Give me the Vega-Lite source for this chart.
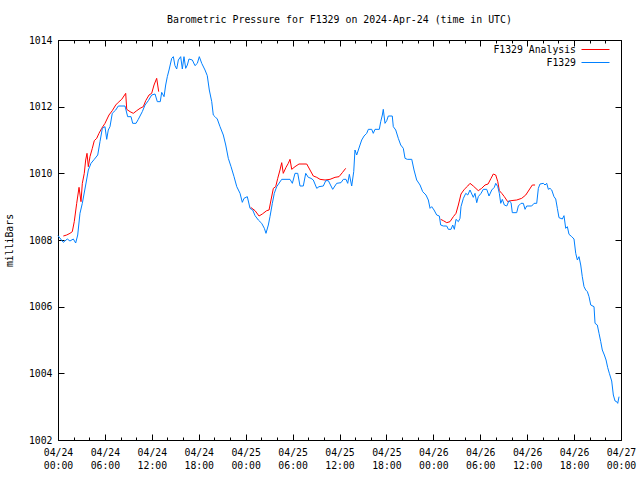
{
"$schema": "https://vega.github.io/schema/vega-lite/v6.json",
"width": 563, "height": 400,
"autosize": "none",
"padding": {"left": 58, "top": 40, "right": 19, "bottom": 40},
"background": "white",
"title": {"text": "Barometric Pressure for F1329 on 2024-Apr-24 (time in UTC)", "font": "DejaVu Sans Mono", "fontSize": 9.9, "fontWeight": "normal", "anchor": "middle", "offset": 10, "color": "black"},
"config": {
 "view": {"stroke": "black", "strokeWidth": 1},
 "axis": {"grid": false, "domain": false, "labelFont": "DejaVu Sans Mono", "labelFontSize": 9.8, "labelColor": "black", "tickColor": "black", "tickWidth": 1, "titleFont": "DejaVu Sans Mono", "titleFontSize": 9.8, "titleFontWeight": "normal", "titleColor": "black"}
},
"data": {"values": [
{"series":"F1329 Analysis","seg":"a1","hour":0.68,"mb":1008.12},
{"series":"F1329 Analysis","seg":"a1","hour":1.11,"mb":1008.15},
{"series":"F1329 Analysis","seg":"a1","hour":1.53,"mb":1008.2},
{"series":"F1329 Analysis","seg":"a1","hour":1.83,"mb":1008.25},
{"series":"F1329 Analysis","seg":"a1","hour":2.08,"mb":1008.55},
{"series":"F1329 Analysis","seg":"a1","hour":2.39,"mb":1009.1},
{"series":"F1329 Analysis","seg":"a1","hour":2.69,"mb":1009.58},
{"series":"F1329 Analysis","seg":"a1","hour":2.94,"mb":1009.15},
{"series":"F1329 Analysis","seg":"a1","hour":3.11,"mb":1009.7},
{"series":"F1329 Analysis","seg":"a1","hour":3.36,"mb":1010.0},
{"series":"F1329 Analysis","seg":"a1","hour":3.54,"mb":1010.4},
{"series":"F1329 Analysis","seg":"a1","hour":3.71,"mb":1010.6},
{"series":"F1329 Analysis","seg":"a1","hour":3.88,"mb":1010.2},
{"series":"F1329 Analysis","seg":"a1","hour":4.09,"mb":1010.5},
{"series":"F1329 Analysis","seg":"a1","hour":4.39,"mb":1010.75},
{"series":"F1329 Analysis","seg":"a1","hour":4.64,"mb":1010.98},
{"series":"F1329 Analysis","seg":"a1","hour":4.95,"mb":1011.05},
{"series":"F1329 Analysis","seg":"a1","hour":5.24,"mb":1011.2},
{"series":"F1329 Analysis","seg":"a1","hour":5.59,"mb":1011.35},
{"series":"F1329 Analysis","seg":"a1","hour":6.01,"mb":1011.5},
{"series":"F1329 Analysis","seg":"a1","hour":6.52,"mb":1011.75},
{"series":"F1329 Analysis","seg":"a1","hour":6.94,"mb":1011.88},
{"series":"F1329 Analysis","seg":"a1","hour":7.38,"mb":1012.05},
{"series":"F1329 Analysis","seg":"a1","hour":7.71,"mb":1012.13},
{"series":"F1329 Analysis","seg":"a1","hour":8.15,"mb":1012.22},
{"series":"F1329 Analysis","seg":"a1","hour":8.66,"mb":1012.4},
{"series":"F1329 Analysis","seg":"a1","hour":8.79,"mb":1011.92},
{"series":"F1329 Analysis","seg":"a1","hour":9.21,"mb":1011.85},
{"series":"F1329 Analysis","seg":"a1","hour":9.63,"mb":1011.8},
{"series":"F1329 Analysis","seg":"a1","hour":10.07,"mb":1011.88},
{"series":"F1329 Analysis","seg":"a1","hour":10.49,"mb":1011.95},
{"series":"F1329 Analysis","seg":"a1","hour":10.91,"mb":1012.0},
{"series":"F1329 Analysis","seg":"a1","hour":11.22,"mb":1012.18},
{"series":"F1329 Analysis","seg":"a1","hour":11.64,"mb":1012.35},
{"series":"F1329 Analysis","seg":"a1","hour":11.98,"mb":1012.4},
{"series":"F1329 Analysis","seg":"a1","hour":12.28,"mb":1012.65},
{"series":"F1329 Analysis","seg":"a1","hour":12.62,"mb":1012.85},
{"series":"F1329 Analysis","seg":"a1","hour":12.88,"mb":1012.45},
{"series":"F1329 Analysis","seg":"a2","hour":24.64,"mb":1008.98},
{"series":"F1329 Analysis","seg":"a2","hour":25.2,"mb":1008.88},
{"series":"F1329 Analysis","seg":"a2","hour":25.71,"mb":1008.72},
{"series":"F1329 Analysis","seg":"a2","hour":26.13,"mb":1008.78},
{"series":"F1329 Analysis","seg":"a2","hour":26.69,"mb":1008.88},
{"series":"F1329 Analysis","seg":"a2","hour":26.99,"mb":1008.9},
{"series":"F1329 Analysis","seg":"a2","hour":27.24,"mb":1009.2},
{"series":"F1329 Analysis","seg":"a2","hour":27.54,"mb":1009.55},
{"series":"F1329 Analysis","seg":"a2","hour":27.84,"mb":1009.6},
{"series":"F1329 Analysis","seg":"a2","hour":28.1,"mb":1009.85},
{"series":"F1329 Analysis","seg":"a2","hour":28.39,"mb":1010.1},
{"series":"F1329 Analysis","seg":"a2","hour":28.61,"mb":1010.32},
{"series":"F1329 Analysis","seg":"a2","hour":28.81,"mb":1010.0},
{"series":"F1329 Analysis","seg":"a2","hour":29.16,"mb":1010.18},
{"series":"F1329 Analysis","seg":"a2","hour":29.45,"mb":1010.3},
{"series":"F1329 Analysis","seg":"a2","hour":29.67,"mb":1010.42},
{"series":"F1329 Analysis","seg":"a2","hour":29.89,"mb":1010.12},
{"series":"F1329 Analysis","seg":"a2","hour":30.31,"mb":1010.2},
{"series":"F1329 Analysis","seg":"a2","hour":30.82,"mb":1010.28},
{"series":"F1329 Analysis","seg":"a2","hour":31.81,"mb":1010.28},
{"series":"F1329 Analysis","seg":"a2","hour":32.23,"mb":1010.1},
{"series":"F1329 Analysis","seg":"a2","hour":32.65,"mb":1009.92},
{"series":"F1329 Analysis","seg":"a2","hour":33.09,"mb":1009.88},
{"series":"F1329 Analysis","seg":"a2","hour":33.51,"mb":1009.82},
{"series":"F1329 Analysis","seg":"a2","hour":34.15,"mb":1009.8},
{"series":"F1329 Analysis","seg":"a2","hour":34.79,"mb":1009.82},
{"series":"F1329 Analysis","seg":"a2","hour":35.43,"mb":1009.88},
{"series":"F1329 Analysis","seg":"a2","hour":35.94,"mb":1009.9},
{"series":"F1329 Analysis","seg":"a2","hour":36.36,"mb":1010.02},
{"series":"F1329 Analysis","seg":"a2","hour":36.79,"mb":1010.15},
{"series":"F1329 Analysis","seg":"a3","hour":48.94,"mb":1008.62},
{"series":"F1329 Analysis","seg":"a3","hour":49.28,"mb":1008.58},
{"series":"F1329 Analysis","seg":"a3","hour":49.71,"mb":1008.52},
{"series":"F1329 Analysis","seg":"a3","hour":50.13,"mb":1008.55},
{"series":"F1329 Analysis","seg":"a3","hour":50.56,"mb":1008.7},
{"series":"F1329 Analysis","seg":"a3","hour":50.9,"mb":1008.8},
{"series":"F1329 Analysis","seg":"a3","hour":51.2,"mb":1009.05},
{"series":"F1329 Analysis","seg":"a3","hour":51.54,"mb":1009.38},
{"series":"F1329 Analysis","seg":"a3","hour":51.96,"mb":1009.52},
{"series":"F1329 Analysis","seg":"a3","hour":52.4,"mb":1009.62},
{"series":"F1329 Analysis","seg":"a3","hour":52.69,"mb":1009.7},
{"series":"F1329 Analysis","seg":"a3","hour":53.11,"mb":1009.62},
{"series":"F1329 Analysis","seg":"a3","hour":53.75,"mb":1009.48},
{"series":"F1329 Analysis","seg":"a3","hour":54.18,"mb":1009.55},
{"series":"F1329 Analysis","seg":"a3","hour":54.61,"mb":1009.65},
{"series":"F1329 Analysis","seg":"a3","hour":55.0,"mb":1009.68},
{"series":"F1329 Analysis","seg":"a3","hour":55.38,"mb":1009.85},
{"series":"F1329 Analysis","seg":"a3","hour":55.67,"mb":1009.98},
{"series":"F1329 Analysis","seg":"a3","hour":55.98,"mb":1009.95},
{"series":"F1329 Analysis","seg":"a3","hour":56.24,"mb":1009.75},
{"series":"F1329 Analysis","seg":"a3","hour":56.44,"mb":1009.48},
{"series":"F1329 Analysis","seg":"a3","hour":56.75,"mb":1009.4},
{"series":"F1329 Analysis","seg":"a3","hour":57.08,"mb":1009.3},
{"series":"F1329 Analysis","seg":"a3","hour":57.51,"mb":1009.15},
{"series":"F1329 Analysis","seg":"a3","hour":57.94,"mb":1009.18},
{"series":"F1329 Analysis","seg":"a3","hour":58.66,"mb":1009.2},
{"series":"F1329 Analysis","seg":"a3","hour":59.3,"mb":1009.25},
{"series":"F1329 Analysis","seg":"a3","hour":59.82,"mb":1009.35},
{"series":"F1329 Analysis","seg":"a3","hour":60.24,"mb":1009.5},
{"series":"F1329 Analysis","seg":"a3","hour":60.66,"mb":1009.65},
{"series":"F1329 Analysis","seg":"a3","hour":61.01,"mb":1009.65},
{"series":"F1329","seg":"b","hour":0.0,"mb":1008.13},
{"series":"F1329","seg":"b","hour":0.68,"mb":1007.93},
{"series":"F1329","seg":"b","hour":1.19,"mb":1008.03},
{"series":"F1329","seg":"b","hour":1.53,"mb":1007.97},
{"series":"F1329","seg":"b","hour":1.96,"mb":1008.03},
{"series":"F1329","seg":"b","hour":2.26,"mb":1007.91},
{"series":"F1329","seg":"b","hour":2.52,"mb":1008.15},
{"series":"F1329","seg":"b","hour":2.81,"mb":1008.8},
{"series":"F1329","seg":"b","hour":3.11,"mb":1009.1},
{"series":"F1329","seg":"b","hour":3.54,"mb":1009.65},
{"series":"F1329","seg":"b","hour":3.88,"mb":1010.1},
{"series":"F1329","seg":"b","hour":4.22,"mb":1010.3},
{"series":"F1329","seg":"b","hour":4.64,"mb":1010.42},
{"series":"F1329","seg":"b","hour":5.08,"mb":1010.55},
{"series":"F1329","seg":"b","hour":5.37,"mb":1010.95},
{"series":"F1329","seg":"b","hour":5.67,"mb":1011.35},
{"series":"F1329","seg":"b","hour":6.01,"mb":1011.4},
{"series":"F1329","seg":"b","hour":6.23,"mb":1011.02},
{"series":"F1329","seg":"b","hour":6.43,"mb":1011.3},
{"series":"F1329","seg":"b","hour":6.65,"mb":1011.4},
{"series":"F1329","seg":"b","hour":6.94,"mb":1011.8},
{"series":"F1329","seg":"b","hour":7.38,"mb":1011.9},
{"series":"F1329","seg":"b","hour":7.71,"mb":1012.02},
{"series":"F1329","seg":"b","hour":8.57,"mb":1012.02},
{"series":"F1329","seg":"b","hour":8.91,"mb":1011.7},
{"series":"F1329","seg":"b","hour":9.34,"mb":1011.7},
{"series":"F1329","seg":"b","hour":9.55,"mb":1011.5},
{"series":"F1329","seg":"b","hour":9.98,"mb":1011.5},
{"series":"F1329","seg":"b","hour":10.27,"mb":1011.62},
{"series":"F1329","seg":"b","hour":10.78,"mb":1011.85},
{"series":"F1329","seg":"b","hour":11.13,"mb":1012.05},
{"series":"F1329","seg":"b","hour":11.55,"mb":1012.18},
{"series":"F1329","seg":"b","hour":11.98,"mb":1012.35},
{"series":"F1329","seg":"b","hour":12.41,"mb":1012.38},
{"series":"F1329","seg":"b","hour":12.7,"mb":1012.15},
{"series":"F1329","seg":"b","hour":13.08,"mb":1012.15},
{"series":"F1329","seg":"b","hour":13.26,"mb":1012.43},
{"series":"F1329","seg":"b","hour":13.56,"mb":1012.3},
{"series":"F1329","seg":"b","hour":13.77,"mb":1012.65},
{"series":"F1329","seg":"b","hour":13.98,"mb":1012.9},
{"series":"F1329","seg":"b","hour":14.2,"mb":1013.1},
{"series":"F1329","seg":"b","hour":14.54,"mb":1013.45},
{"series":"F1329","seg":"b","hour":14.75,"mb":1013.5},
{"series":"F1329","seg":"b","hour":14.96,"mb":1013.23},
{"series":"F1329","seg":"b","hour":15.18,"mb":1013.13},
{"series":"F1329","seg":"b","hour":15.39,"mb":1013.4},
{"series":"F1329","seg":"b","hour":15.69,"mb":1013.5},
{"series":"F1329","seg":"b","hour":15.9,"mb":1013.13},
{"series":"F1329","seg":"b","hour":16.11,"mb":1013.5},
{"series":"F1329","seg":"b","hour":16.33,"mb":1013.15},
{"series":"F1329","seg":"b","hour":16.54,"mb":1013.25},
{"series":"F1329","seg":"b","hour":16.75,"mb":1013.43},
{"series":"F1329","seg":"b","hour":17.18,"mb":1013.4},
{"series":"F1329","seg":"b","hour":17.52,"mb":1013.23},
{"series":"F1329","seg":"b","hour":17.82,"mb":1013.3},
{"series":"F1329","seg":"b","hour":18.07,"mb":1013.5},
{"series":"F1329","seg":"b","hour":18.38,"mb":1013.3},
{"series":"F1329","seg":"b","hour":18.8,"mb":1013.1},
{"series":"F1329","seg":"b","hour":19.09,"mb":1012.93},
{"series":"F1329","seg":"b","hour":19.35,"mb":1012.5},
{"series":"F1329","seg":"b","hour":19.66,"mb":1012.15},
{"series":"F1329","seg":"b","hour":19.86,"mb":1011.75},
{"series":"F1329","seg":"b","hour":20.08,"mb":1011.7},
{"series":"F1329","seg":"b","hour":20.37,"mb":1011.63},
{"series":"F1329","seg":"b","hour":20.72,"mb":1011.4},
{"series":"F1329","seg":"b","hour":21.14,"mb":1011.15},
{"series":"F1329","seg":"b","hour":21.45,"mb":1010.85},
{"series":"F1329","seg":"b","hour":21.78,"mb":1010.45},
{"series":"F1329","seg":"b","hour":22.13,"mb":1010.2},
{"series":"F1329","seg":"b","hour":22.51,"mb":1009.9},
{"series":"F1329","seg":"b","hour":22.86,"mb":1009.6},
{"series":"F1329","seg":"b","hour":23.28,"mb":1009.4},
{"series":"F1329","seg":"b","hour":23.57,"mb":1009.13},
{"series":"F1329","seg":"b","hour":23.79,"mb":1009.25},
{"series":"F1329","seg":"b","hour":24.21,"mb":1009.3},
{"series":"F1329","seg":"b","hour":24.56,"mb":1008.95},
{"series":"F1329","seg":"b","hour":24.9,"mb":1008.9},
{"series":"F1329","seg":"b","hour":25.2,"mb":1008.73},
{"series":"F1329","seg":"b","hour":25.62,"mb":1008.6},
{"series":"F1329","seg":"b","hour":26.05,"mb":1008.5},
{"series":"F1329","seg":"b","hour":26.39,"mb":1008.35},
{"series":"F1329","seg":"b","hour":26.6,"mb":1008.2},
{"series":"F1329","seg":"b","hour":26.9,"mb":1008.45},
{"series":"F1329","seg":"b","hour":27.11,"mb":1008.7},
{"series":"F1329","seg":"b","hour":27.41,"mb":1009.1},
{"series":"F1329","seg":"b","hour":27.66,"mb":1009.4},
{"series":"F1329","seg":"b","hour":27.97,"mb":1009.6},
{"series":"F1329","seg":"b","hour":28.61,"mb":1009.82},
{"series":"F1329","seg":"b","hour":29.67,"mb":1009.82},
{"series":"F1329","seg":"b","hour":29.97,"mb":1009.7},
{"series":"F1329","seg":"b","hour":30.31,"mb":1010.0},
{"series":"F1329","seg":"b","hour":30.66,"mb":1010.0},
{"series":"F1329","seg":"b","hour":30.95,"mb":1009.62},
{"series":"F1329","seg":"b","hour":31.37,"mb":1009.62},
{"series":"F1329","seg":"b","hour":31.68,"mb":1010.0},
{"series":"F1329","seg":"b","hour":32.01,"mb":1009.88},
{"series":"F1329","seg":"b","hour":32.36,"mb":1009.85},
{"series":"F1329","seg":"b","hour":32.65,"mb":1009.8},
{"series":"F1329","seg":"b","hour":33.09,"mb":1009.55},
{"series":"F1329","seg":"b","hour":33.38,"mb":1009.6},
{"series":"F1329","seg":"b","hour":33.93,"mb":1009.62},
{"series":"F1329","seg":"b","hour":34.24,"mb":1009.78},
{"series":"F1329","seg":"b","hour":34.57,"mb":1009.78},
{"series":"F1329","seg":"b","hour":35.13,"mb":1009.52},
{"series":"F1329","seg":"b","hour":35.64,"mb":1009.7},
{"series":"F1329","seg":"b","hour":36.19,"mb":1009.72},
{"series":"F1329","seg":"b","hour":36.49,"mb":1009.82},
{"series":"F1329","seg":"b","hour":36.83,"mb":1009.82},
{"series":"F1329","seg":"b","hour":37.05,"mb":1009.7},
{"series":"F1329","seg":"b","hour":37.26,"mb":1009.97},
{"series":"F1329","seg":"b","hour":37.56,"mb":1009.62},
{"series":"F1329","seg":"b","hour":37.82,"mb":1010.05},
{"series":"F1329","seg":"b","hour":37.98,"mb":1010.7},
{"series":"F1329","seg":"b","hour":38.2,"mb":1010.55},
{"series":"F1329","seg":"b","hour":38.41,"mb":1010.7},
{"series":"F1329","seg":"b","hour":38.62,"mb":1010.85},
{"series":"F1329","seg":"b","hour":38.84,"mb":1011.0},
{"series":"F1329","seg":"b","hour":39.14,"mb":1011.12},
{"series":"F1329","seg":"b","hour":39.48,"mb":1011.2},
{"series":"F1329","seg":"b","hour":39.69,"mb":1011.32},
{"series":"F1329","seg":"b","hour":40.12,"mb":1011.32},
{"series":"F1329","seg":"b","hour":40.32,"mb":1011.2},
{"series":"F1329","seg":"b","hour":40.54,"mb":1011.32},
{"series":"F1329","seg":"b","hour":41.09,"mb":1011.32},
{"series":"F1329","seg":"b","hour":41.27,"mb":1011.55},
{"series":"F1329","seg":"b","hour":41.48,"mb":1011.75},
{"series":"F1329","seg":"b","hour":41.6,"mb":1011.92},
{"series":"F1329","seg":"b","hour":41.82,"mb":1011.5},
{"series":"F1329","seg":"b","hour":42.04,"mb":1011.58},
{"series":"F1329","seg":"b","hour":42.24,"mb":1011.72},
{"series":"F1329","seg":"b","hour":42.75,"mb":1011.72},
{"series":"F1329","seg":"b","hour":42.88,"mb":1011.4},
{"series":"F1329","seg":"b","hour":43.19,"mb":1011.3},
{"series":"F1329","seg":"b","hour":43.52,"mb":1011.05},
{"series":"F1329","seg":"b","hour":43.83,"mb":1010.85},
{"series":"F1329","seg":"b","hour":44.16,"mb":1010.75},
{"series":"F1329","seg":"b","hour":44.38,"mb":1010.45},
{"series":"F1329","seg":"b","hour":44.67,"mb":1010.42},
{"series":"F1329","seg":"b","hour":45.24,"mb":1010.42},
{"series":"F1329","seg":"b","hour":45.53,"mb":1010.1},
{"series":"F1329","seg":"b","hour":45.87,"mb":1009.8},
{"series":"F1329","seg":"b","hour":46.3,"mb":1009.65},
{"series":"F1329","seg":"b","hour":46.64,"mb":1009.45},
{"series":"F1329","seg":"b","hour":47.06,"mb":1009.35},
{"series":"F1329","seg":"b","hour":47.36,"mb":1009.2},
{"series":"F1329","seg":"b","hour":47.58,"mb":1008.95},
{"series":"F1329","seg":"b","hour":47.79,"mb":1009.0},
{"series":"F1329","seg":"b","hour":48.09,"mb":1008.9},
{"series":"F1329","seg":"b","hour":48.43,"mb":1008.75},
{"series":"F1329","seg":"b","hour":48.77,"mb":1008.72},
{"series":"F1329","seg":"b","hour":48.94,"mb":1008.45},
{"series":"F1329","seg":"b","hour":49.28,"mb":1008.42},
{"series":"F1329","seg":"b","hour":49.71,"mb":1008.42},
{"series":"F1329","seg":"b","hour":49.92,"mb":1008.32},
{"series":"F1329","seg":"b","hour":50.26,"mb":1008.32},
{"series":"F1329","seg":"b","hour":50.48,"mb":1008.45},
{"series":"F1329","seg":"b","hour":50.69,"mb":1008.32},
{"series":"F1329","seg":"b","hour":50.9,"mb":1008.62},
{"series":"F1329","seg":"b","hour":51.2,"mb":1008.55},
{"series":"F1329","seg":"b","hour":51.41,"mb":1008.65},
{"series":"F1329","seg":"b","hour":51.54,"mb":1009.0},
{"series":"F1329","seg":"b","hour":51.84,"mb":1009.25},
{"series":"F1329","seg":"b","hour":52.15,"mb":1009.4},
{"series":"F1329","seg":"b","hour":52.4,"mb":1009.35},
{"series":"F1329","seg":"b","hour":52.69,"mb":1009.5},
{"series":"F1329","seg":"b","hour":53.11,"mb":1009.28},
{"series":"F1329","seg":"b","hour":53.33,"mb":1009.4},
{"series":"F1329","seg":"b","hour":53.55,"mb":1009.12},
{"series":"F1329","seg":"b","hour":53.75,"mb":1009.3},
{"series":"F1329","seg":"b","hour":54.1,"mb":1009.4},
{"series":"F1329","seg":"b","hour":54.39,"mb":1009.52},
{"series":"F1329","seg":"b","hour":54.83,"mb":1009.52},
{"series":"F1329","seg":"b","hour":55.12,"mb":1009.32},
{"series":"F1329","seg":"b","hour":55.47,"mb":1009.5},
{"series":"F1329","seg":"b","hour":55.8,"mb":1009.58},
{"series":"F1329","seg":"b","hour":55.98,"mb":1009.7},
{"series":"F1329","seg":"b","hour":56.24,"mb":1009.6},
{"series":"F1329","seg":"b","hour":56.44,"mb":1009.4},
{"series":"F1329","seg":"b","hour":56.62,"mb":1009.1},
{"series":"F1329","seg":"b","hour":56.82,"mb":1009.22},
{"series":"F1329","seg":"b","hour":57.08,"mb":1009.05},
{"series":"F1329","seg":"b","hour":57.39,"mb":1009.02},
{"series":"F1329","seg":"b","hour":57.68,"mb":1009.18},
{"series":"F1329","seg":"b","hour":57.94,"mb":1009.12},
{"series":"F1329","seg":"b","hour":58.1,"mb":1008.82},
{"series":"F1329","seg":"b","hour":58.66,"mb":1008.82},
{"series":"F1329","seg":"b","hour":58.87,"mb":1009.02},
{"series":"F1329","seg":"b","hour":59.21,"mb":1009.1},
{"series":"F1329","seg":"b","hour":59.51,"mb":1009.1},
{"series":"F1329","seg":"b","hour":59.73,"mb":1008.92},
{"series":"F1329","seg":"b","hour":59.94,"mb":1009.02},
{"series":"F1329","seg":"b","hour":60.58,"mb":1009.02},
{"series":"F1329","seg":"b","hour":60.88,"mb":1009.1},
{"series":"F1329","seg":"b","hour":61.22,"mb":1009.1},
{"series":"F1329","seg":"b","hour":61.43,"mb":1009.55},
{"series":"F1329","seg":"b","hour":61.64,"mb":1009.68},
{"series":"F1329","seg":"b","hour":62.07,"mb":1009.7},
{"series":"F1329","seg":"b","hour":62.28,"mb":1009.65},
{"series":"F1329","seg":"b","hour":62.5,"mb":1009.7},
{"series":"F1329","seg":"b","hour":62.71,"mb":1009.52},
{"series":"F1329","seg":"b","hour":62.92,"mb":1009.55},
{"series":"F1329","seg":"b","hour":63.14,"mb":1009.5},
{"series":"F1329","seg":"b","hour":63.43,"mb":1009.3},
{"series":"F1329","seg":"b","hour":63.65,"mb":1009.23},
{"series":"F1329","seg":"b","hour":63.86,"mb":1008.95},
{"series":"F1329","seg":"b","hour":64.07,"mb":1008.67},
{"series":"F1329","seg":"b","hour":64.5,"mb":1008.63},
{"series":"F1329","seg":"b","hour":64.71,"mb":1008.73},
{"series":"F1329","seg":"b","hour":64.93,"mb":1008.35},
{"series":"F1329","seg":"b","hour":65.14,"mb":1008.4},
{"series":"F1329","seg":"b","hour":65.35,"mb":1008.17},
{"series":"F1329","seg":"b","hour":65.7,"mb":1008.1},
{"series":"F1329","seg":"b","hour":65.99,"mb":1008.03},
{"series":"F1329","seg":"b","hour":66.21,"mb":1007.6},
{"series":"F1329","seg":"b","hour":66.42,"mb":1007.4},
{"series":"F1329","seg":"b","hour":66.63,"mb":1007.5},
{"series":"F1329","seg":"b","hour":66.85,"mb":1007.25},
{"series":"F1329","seg":"b","hour":67.05,"mb":1006.9},
{"series":"F1329","seg":"b","hour":67.27,"mb":1006.6},
{"series":"F1329","seg":"b","hour":67.49,"mb":1006.5},
{"series":"F1329","seg":"b","hour":67.7,"mb":1006.45},
{"series":"F1329","seg":"b","hour":67.91,"mb":1006.3},
{"series":"F1329","seg":"b","hour":68.13,"mb":1006.05},
{"series":"F1329","seg":"b","hour":68.55,"mb":1006.0},
{"series":"F1329","seg":"b","hour":68.68,"mb":1005.5},
{"series":"F1329","seg":"b","hour":68.97,"mb":1005.45},
{"series":"F1329","seg":"b","hour":69.19,"mb":1005.2},
{"series":"F1329","seg":"b","hour":69.41,"mb":1004.95},
{"series":"F1329","seg":"b","hour":69.61,"mb":1004.7},
{"series":"F1329","seg":"b","hour":69.87,"mb":1004.55},
{"series":"F1329","seg":"b","hour":70.09,"mb":1004.4},
{"series":"F1329","seg":"b","hour":70.3,"mb":1004.17},
{"series":"F1329","seg":"b","hour":70.51,"mb":1004.0},
{"series":"F1329","seg":"b","hour":70.81,"mb":1003.77},
{"series":"F1329","seg":"b","hour":71.02,"mb":1003.35},
{"series":"F1329","seg":"b","hour":71.24,"mb":1003.17},
{"series":"F1329","seg":"b","hour":71.45,"mb":1003.15},
{"series":"F1329","seg":"b","hour":71.58,"mb":1003.1},
{"series":"F1329","seg":"b","hour":71.75,"mb":1003.3}
]},
"resolve": {"axis": {"x": "independent", "y": "independent"}},
"layer": [
 {
  "mark": {"type": "line", "strokeWidth": 1, "interpolate": "linear"},
  "encoding": {
   "x": {"field": "hour", "type": "quantitative", "scale": {"domain": [0, 72], "nice": false, "zero": false},
    "axis": {"orient": "bottom", "title": null, "values": [0,6,12,18,24,30,36,42,48,54,60,66,72], "tickSize": -6, "labelPadding": 13, "labelLineHeight": 13, "labelBaseline": "top", "labelFlush": false, "labelOverlap": false,
     "labelExpr": "['04/' + (24 + floor(datum.value / 24)), (datum.value % 24 < 10 ? '0' : '') + (datum.value % 24) + ':00']"}},
   "y": {"field": "mb", "type": "quantitative", "scale": {"domain": [1002, 1014], "nice": false, "zero": false},
    "axis": {"orient": "left", "title": "milliBars", "values": [1002,1004,1006,1008,1010,1012,1014], "format": "d", "tickSize": -6, "labelPadding": 12, "titlePadding": 14, "labelFlush": false}},
   "color": {"field": "series", "type": "nominal", "scale": {"domain": ["F1329 Analysis", "F1329"], "range": ["#ff0000", "#0080ff"]},
    "legend": {"orient": "none", "legendX": 531, "legendY": 3, "title": null, "symbolType": "M-2.333,0L2.333,0", "symbolSize": 144, "symbolStrokeWidth": 1, "symbolFillColor": "transparent", "labelAlign": "right", "labelOffset": -26, "labelFont": "DejaVu Sans Mono", "labelFontSize": 9.8, "labelColor": "black", "padding": 0, "rowPadding": 1}},
   "detail": {"field": "seg", "type": "nominal"}
  }
 },
 {
  "mark": {"type": "point", "opacity": 0},
  "encoding": {
   "x": {"field": "hour", "type": "quantitative", "axis": {"orient": "bottom", "title": null, "labels": false, "values": [0,2,4,6,8,10,12,14,16,18,20,22,24,26,28,30,32,34,36,38,40,42,44,46,48,50,52,54,56,58,60,62,64,66,68,70,72], "tickSize": -3}},
   "y": {"field": "mb", "type": "quantitative", "axis": {"orient": "right", "title": null, "labels": false, "values": [1002,1004,1006,1008,1010,1012,1014], "tickSize": -6}}
  }
 },
 {
  "mark": {"type": "point", "opacity": 0},
  "encoding": {
   "x": {"field": "hour", "type": "quantitative", "axis": {"orient": "top", "title": null, "labels": false, "values": [0,6,12,18,24,30,36,42,48,54,60,66,72], "tickSize": -6}},
   "y": {"field": "mb", "type": "quantitative", "axis": null}
  }
 },
 {
  "mark": {"type": "point", "opacity": 0},
  "encoding": {
   "x": {"field": "hour", "type": "quantitative", "axis": {"orient": "top", "title": null, "labels": false, "values": [0,2,4,6,8,10,12,14,16,18,20,22,24,26,28,30,32,34,36,38,40,42,44,46,48,50,52,54,56,58,60,62,64,66,68,70,72], "tickSize": -3}},
   "y": {"field": "mb", "type": "quantitative", "axis": null}
  }
 }
]
}
